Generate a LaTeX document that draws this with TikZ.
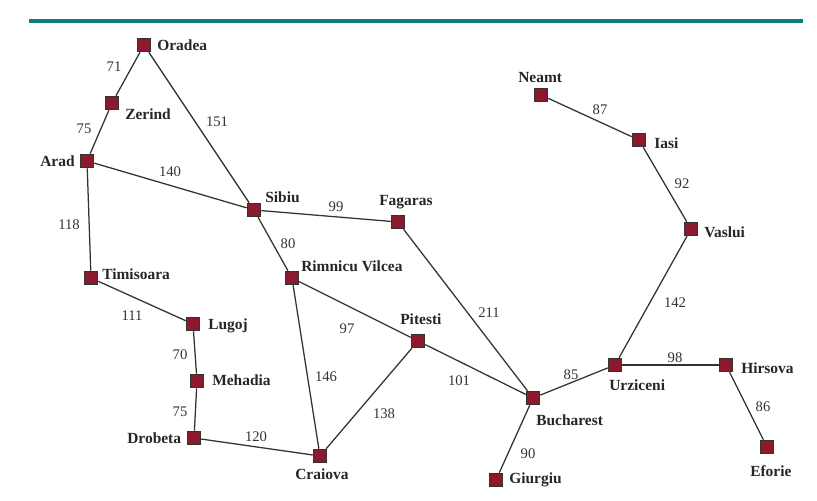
\documentclass[tikz,border=0pt]{standalone}
\usepackage{fontspec}
\setmainfont{Liberation Serif}
\definecolor{cityred}{HTML}{8C1A2E}
\definecolor{tealbar}{HTML}{0B7E80}
\definecolor{edgecol}{HTML}{333333}
\tikzset{
  city/.style={draw=black!80,fill=cityred,line width=0.9pt,minimum size=10pt,inner sep=0pt,rectangle},
  road/.style={edgecol,line width=0.95pt},
  cname/.style={font=\fontsize{11.6pt}{13pt}\selectfont\bfseries,text=black!85,inner sep=0pt,anchor=west,text height=7.7pt,text depth=0pt},
  dist/.style={font=\fontsize{11pt}{13pt}\selectfont,text=black!80,inner sep=0pt}
}
\begin{document}
\begin{tikzpicture}[x=0.75pt,y=-0.75pt]
\useasboundingbox (0,0) rectangle (817,500);
\fill[white] (0,0) rectangle (817,500);
\coordinate (barL) at (29,21);
\coordinate (barR) at (803,21);
\draw[tealbar,line width=2.5pt] (barL) -- (barR);
\node[city] (oradea) at (144,45) {};
\node[city] (zerind) at (112,103) {};
\node[city] (arad) at (87,161) {};
\node[city] (sibiu) at (254,210) {};
\node[city] (fagaras) at (398,222) {};
\node[city] (timisoara) at (91,278) {};
\node[city] (rimnicu) at (292,278) {};
\node[city] (lugoj) at (193,324) {};
\node[city] (mehadia) at (197,381) {};
\node[city] (drobeta) at (194,438) {};
\node[city] (craiova) at (320,456) {};
\node[city] (pitesti) at (418,341) {};
\node[city] (bucharest) at (533,398) {};
\node[city] (giurgiu) at (496,480) {};
\node[city] (urziceni) at (615,365) {};
\node[city] (hirsova) at (726,365) {};
\node[city] (eforie) at (767,447) {};
\node[city] (vaslui) at (691,229) {};
\node[city] (iasi) at (639,140) {};
\node[city] (neamt) at (541,95) {};
\draw[road] (oradea) -- (zerind);
\draw[road] (zerind) -- (arad);
\draw[road] (oradea) -- (sibiu);
\draw[road] (arad) -- (sibiu);
\draw[road] (arad) -- (timisoara);
\draw[road] (timisoara) -- (lugoj);
\draw[road] (lugoj) -- (mehadia);
\draw[road] (mehadia) -- (drobeta);
\draw[road] (drobeta) -- (craiova);
\draw[road] (sibiu) -- (fagaras);
\draw[road] (sibiu) -- (rimnicu);
\draw[road] (rimnicu) -- (craiova);
\draw[road] (rimnicu) -- (pitesti);
\draw[road] (craiova) -- (pitesti);
\draw[road] (pitesti) -- (bucharest);
\draw[road] (fagaras) -- (bucharest);
\draw[road] (bucharest) -- (giurgiu);
\draw[road] (bucharest) -- (urziceni);
\draw[road] (urziceni) -- (hirsova);
\draw[road] (hirsova) -- (eforie);
\draw[road] (urziceni) -- (vaslui);
\draw[road] (vaslui) -- (iasi);
\draw[road] (iasi) -- (neamt);
\node[cname] (t1) at (157,45) {Oradea};
\node[cname] (t2) at (125,114) {Zerind};
\node[cname] (t3) at (40,161) {Arad};
\node[cname] (t4) at (265,197) {Sibiu};
\node[cname] (t5) at (379,200) {Fagaras};
\node[cname] (t6) at (102,274) {Timisoara};
\node[cname] (t7) at (301,266) {Rimnicu Vilcea};
\node[cname] (t8) at (208,324.5) {Lugoj};
\node[cname] (t9) at (212,380) {Mehadia};
\node[cname] (t10) at (127,438) {Drobeta};
\node[cname] (t11) at (295,474) {Craiova};
\node[cname] (t12) at (400,319) {Pitesti};
\node[cname] (t13) at (536,420) {Bucharest};
\node[cname] (t14) at (509,478.5) {Giurgiu};
\node[cname] (t15) at (609,385) {Urziceni};
\node[cname] (t16) at (741,368) {Hirsova};
\node[cname] (t17) at (750,471) {Eforie};
\node[cname] (t18) at (704,232) {Vaslui};
\node[cname] (t19) at (654,143) {Iasi};
\node[cname] (t20) at (518,77) {Neamt};
\node[dist] (d1) at (114,67) {71};
\node[dist] (d2) at (84,129) {75};
\node[dist] (d3) at (217,121.5) {151};
\node[dist] (d4) at (170,171.5) {140};
\node[dist] (d5) at (69,224.5) {118};
\node[dist] (d6) at (132,316) {111};
\node[dist] (d7) at (180,355) {70};
\node[dist] (d8) at (180,412) {75};
\node[dist] (d9) at (256,437) {120};
\node[dist] (d10) at (336,207) {99};
\node[dist] (d11) at (288,243.5) {80};
\node[dist] (d12) at (347,328.5) {97};
\node[dist] (d13) at (326,376.5) {146};
\node[dist] (d14) at (384,413.5) {138};
\node[dist] (d15) at (459,380.5) {101};
\node[dist] (d16) at (489,312.5) {211};
\node[dist] (d17) at (571,374.5) {85};
\node[dist] (d18) at (528,453.5) {90};
\node[dist] (d19) at (675,357.5) {98};
\node[dist] (d20) at (763,406.5) {86};
\node[dist] (d21) at (675,302.5) {142};
\node[dist] (d22) at (682,183.5) {92};
\node[dist] (d23) at (600,109.5) {87};
\end{tikzpicture}
\end{document}
